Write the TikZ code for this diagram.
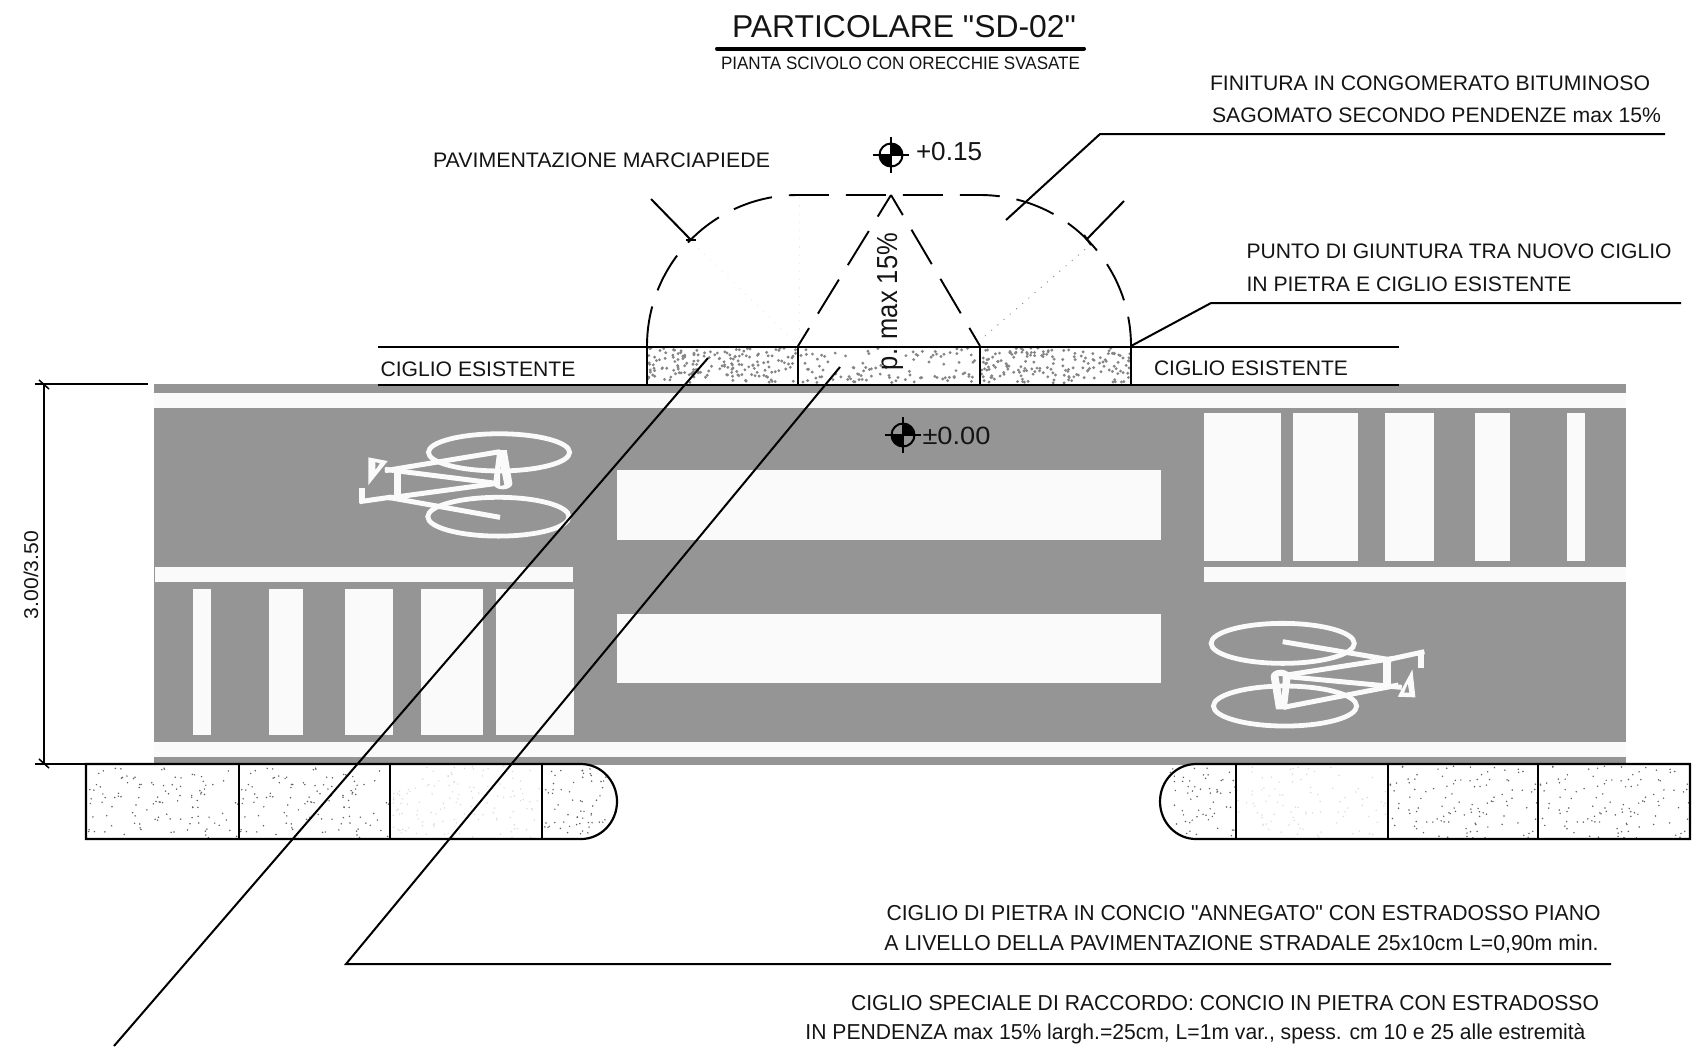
\documentclass[tikz,border=0pt]{standalone}
\usepackage{fontspec}
\usepackage{graphicx}
\usetikzlibrary{calc}
\setmainfont{Liberation Sans}
\newfontfamily\rawf{Liberation Sans}
\definecolor{road}{HTML}{959595}
\definecolor{paint}{HTML}{FAFAFA}
\newcommand{\fit}[3]{{\fontsize{#2}{#2}\selectfont\resizebox{#1}{\height}{#3}}}
\tikzset{
  ln/.style={draw=black,line width=1.0pt},
  thin ln/.style={draw=black,line width=0.75pt},
  dashln/.style={draw=black,line width=0.95pt,dash pattern=on 20pt off 8.5pt},
  txt/.style={anchor=base,inner sep=0pt,outer sep=0pt,text=black!92},
  bar/.style={fill=paint,draw=none},
  bk/.style={draw=paint,line width=2.5pt,line join=round,line cap=butt},
  wheel/.style={draw=paint,line width=2.4pt},
  dotA/.style={fill=black!48},
  dotB/.style={fill=black!14},
  dotC/.style={fill=black!62},
}
\newcommand{\dotfield}[8]{%
  \pgfmathsetseed{#7}%
  \foreach \i in {1,...,#5}{
    \pgfmathsetmacro{\sx}{#1+(#3-#1)*rnd}
    \pgfmathsetmacro{\sy}{#2+(#4-#2)*rnd}
    \fill[#6] (\sx,\sy) circle[radius=#8];
  }}
\newcommand{\levelmark}[3]{%
  \coordinate (#1) at (#2,#3);
  \fill[black] (#1) -- ++(0,-11.5) arc[start angle=90,end angle=0,radius=5.75pt] -- cycle;
  \fill[black] (#1) -- ++(0,11.5) arc[start angle=270,end angle=180,radius=5.75pt] -- cycle;
  \draw[line width=1pt] (#1) circle[radius=5.75pt];
  \draw[line width=1pt] ($(#1)+(-18,0)$) -- ($(#1)+(18,0)$);
  \draw[line width=1pt] ($(#1)+(0,-18)$) -- ($(#1)+(0,18)$);
}
\begin{document}
\begin{tikzpicture}[x=0.5pt,y=-0.5pt]
\useasboundingbox (0,0) rectangle (1700,1046);
% road
\fill[road] (154,384) rectangle (1626,764.5);
\fill[bar] (154,393) rectangle (1626,408);
\fill[bar] (154,741.5) rectangle (1626,757);
\fill[bar] (616.5,470) rectangle (1160.5,540);
\fill[bar] (616.5,614) rectangle (1160.5,683);
\fill[bar] (155,567) rectangle (572.5,582);
\fill[bar] (1203.5,567) rectangle (1626,582);
\foreach \a/\b in {192.5/210.5,268.5/302.5,344.5/393,420.5/483,496/573.5}
  \fill[bar] (\a,589) rectangle (\b,735);
\foreach \a/\b in {1203.5/1280.5,1292.5/1357.5,1384.5/1433.5,1474.5/1509.5,1566.5/1584.5}
  \fill[bar] (\a,413) rectangle (\b,561);
% bike left
\begin{scope}[shift={(320,400)},x=0.1667pt,y=-0.1667pt]
  \draw[wheel] (537,157) ellipse[x radius=35.3pt,y radius=9.3pt];
  \draw[wheel] (535,350) ellipse[x radius=35.3pt,y radius=9.7pt];
  \draw[bk] (540,155) -- (195,212);
  \draw[bk] (195,208) -- (530,250);
  \draw[bk] (205,294) -- (530,250);
  \draw[bk,line width=3.8pt] (232,205) -- (232,295);
  \draw[bk] (205,292) -- (540,352);
  \draw[bk] (118,305) -- (215,291);
  \draw[bk,line width=3.2pt] (126,265) -- (126,310);
  \fill[paint,even odd rule] (145,172) -- (203,183) -- (145,255) -- cycle (166,186) -- (180,190) -- (166,210) -- cycle;
  \fill[paint,even odd rule] (532,150) -- (560,150) -- (577,250) arc[start angle=0,end angle=-180,x radius=4.8pt,y radius=3pt] -- cycle (541,195) -- (553,255) -- (540,258) -- cycle;
\end{scope}
% bike right
\begin{scope}[shift={(1180,600)},x=0.1667pt,y=-0.1667pt]
  \draw[wheel] (308,130) ellipse[x radius=35.8pt,y radius=10pt];
  \draw[wheel] (315,318) ellipse[x radius=35.8pt,y radius=10pt];
  \draw[bk] (308,125) -- (635,180);
  \draw[bk] (640,175) -- (320,225);
  \draw[bk] (325,230) -- (665,262);
  \draw[bk] (310,322) -- (655,255);
  \draw[bk,line width=3.8pt] (620,170) -- (620,260);
  \draw[bk] (632,177) -- (733,155);
  \draw[bk,line width=3.2pt] (722,155) -- (722,203);
  \fill[paint,even odd rule] (697,208) -- (706,292) -- (653,290) -- cycle (683,250) -- (688,278) -- (672,278) -- cycle;
  \fill[paint,even odd rule] (272,230) arc[start angle=180,end angle=0,x radius=5pt,y radius=3.5pt] -- (320,328) -- (288,328) -- cycle (295,228) -- (308,228) -- (306,290) -- cycle;
\end{scope}
% stipple
\dotfield{648}{348}{797}{383}{170}{dotA}{11}{0.8pt}
\dotfield{799}{348}{979}{383}{100}{dotA}{12}{0.8pt}
\dotfield{981}{348}{1130}{383}{170}{dotA}{13}{0.8pt}
\dotfield{88}{766}{238}{838}{110}{dotC}{21}{0.42pt}
\dotfield{240}{766}{389}{838}{110}{dotC}{21}{0.42pt}
\dotfield{392}{766}{540}{838}{130}{dotB}{23}{0.42pt}
\dotfield{543}{768}{608}{836}{60}{dotC}{24}{0.42pt}
\dotfield{1170}{768}{1235}{836}{60}{dotC}{25}{0.42pt}
\dotfield{1237}{766}{1387}{838}{90}{dotB}{26}{0.42pt}
\dotfield{1389}{766}{1537}{838}{110}{dotC}{27}{0.42pt}
\dotfield{1539}{766}{1689}{838}{110}{dotC}{27}{0.42pt}
% kerbs
\draw[ln,line width=1.1pt] (86,764) -- (581,764) arc[start angle=90,end angle=-90,x radius=18pt,y radius=18.75pt] -- (86,839) -- cycle;
\draw[ln,line width=1.1pt] (1690,764) -- (1196,764) arc[start angle=90,end angle=270,x radius=18pt,y radius=18.75pt] -- (1690,839) -- cycle;
\foreach \a in {239,390,541.5,1236,1388,1538}
  \draw[ln] (\a,764) -- (\a,839);
% kerb strip
\draw[ln] (378,347) -- (1399,347);
\draw[ln] (378,384.5) -- (1399,384.5);
\foreach \a in {647,798,980,1131}
  \draw[ln] (\a,347) -- (\a,384.5);
% faint dotted
\draw[black!45,line width=0.4pt,dash pattern=on 0.6pt off 3.5pt] (985,336) -- (1090,245);
\draw[black!8,line width=0.4pt,dash pattern=on 0.6pt off 3.5pt] (799,346) -- (690,240);
\draw[black!8,line width=0.4pt,dash pattern=on 0.6pt off 3.5pt] (799,346) -- (799,195);
% ramp outline
\draw[dashln] (647,346) arc[start angle=180,end angle=90,radius=75.5pt] -- (980,195) arc[start angle=90,end angle=0,radius=75.5pt];
\coordinate (apex) at (891,195);
\coordinate (footL) at (798,346);
\coordinate (footR) at (980,346);
\draw[dashln,dash phase=9.5pt] (footL) -- (apex);
\draw[dashln,dash phase=9.5pt] (footR) -- (apex);
% ticks
\coordinate (tlA) at (651,199); \coordinate (tlB) at (691,240);
\coordinate (trA) at (1124,201); \coordinate (trB) at (1086,240);
\draw[ln] (tlA) -- (tlB);
\draw[ln] (686,240) -- (696,240);
\draw[ln] (trA) -- (trB);
\draw[ln] (1084,235) -- (1091,245);
% leaders
\coordinate (fA) at (1006,220); \coordinate (fB) at (1100,134); \coordinate (fC) at (1665,134);
\draw[ln] (fA) -- (fB) -- (fC);
\coordinate (pA) at (1131,346); \coordinate (pB) at (1211,303); \coordinate (pC) at (1681,303);
\draw[ln] (pA) -- (pB) -- (pC);
\coordinate (aA) at (708,358); \coordinate (aB) at (114,1046);
\draw[ln] (aA) -- (aB);
\coordinate (bA) at (840,367); \coordinate (bB) at (346,964); \coordinate (bC) at (1611,964);
\draw[ln] (bA) -- (bB) -- (bC);
% dimension
\coordinate (dA) at (44,384); \coordinate (dB) at (44,764);
\draw[ln] (dA) -- (dB);
\draw[ln] (35,384) -- (148,384);
\draw[ln] (35,764) -- (148,764);
\draw[thin ln] (39,380) -- (49,389);
\draw[thin ln] (39,759) -- (49,768);
% level marks
\levelmark{lmA}{891}{155}
\levelmark{lmB}{903}{435}
% title
\node[txt] (title) at (904,37) {\fit{172pt}{15.8pt}{\rawf PARTICOLARE "SD-02"}};
\coordinate (rA) at (717,48.5); \coordinate (rB) at (1084,48.5);
\draw[black,line width=2pt,line cap=round] (rA) -- (rB);
\node[txt] (sub) at (900.5,69.5) {\fit{179.5pt}{9pt}{PIANTA SCIVOLO CON ORECCHIE SVASATE}};
% labels
\node[txt] (pav) at (601.5,167.5) {\fit{168.5pt}{10.5pt}{PAVIMENTAZIONE MARCIAPIEDE}};
\node[txt] (lv1) at (949,160) {\fit{33pt}{13pt}{+0.15}};
\node[txt] (lv2) at (956.5,444) {\fit{34pt}{12.5pt}{±0.00}};
\node[txt] (f1) at (1430,90) {\fit{220pt}{10.5pt}{FINITURA IN CONGOMERATO BITUMINOSO}};
\node[txt] (f2) at (1436.5,122.5) {\fit{224.5pt}{10.5pt}{SAGOMATO SECONDO PENDENZE max 15\%}};
\node[txt] (p1) at (1459,258) {\fit{212.5pt}{10.5pt}{PUNTO DI GIUNTURA TRA NUOVO CIGLIO}};
\node[txt] (p2) at (1409,291.5) {\fit{162.5pt}{10.5pt}{IN PIETRA E CIGLIO ESISTENTE}};
\node[txt] (c1) at (478,376) {\fit{97.5pt}{10.5pt}{CIGLIO ESISTENTE}};
\node[txt] (c2) at (1251,375) {\fit{97pt}{10.5pt}{CIGLIO ESISTENTE}};
\node[txt,rotate=90,anchor=base] (pm) at (897,301.5) {\fit{68.5pt}{14.5pt}{p. max 15\%}};
\node[txt,rotate=90,anchor=base] (dim) at (38,575) {\fit{44pt}{10pt}{3.00/3.50}};
\node[txt] (t1) at (1243.5,920) {\fit{357pt}{10.8pt}{\rawf CIGLIO DI PIETRA IN CONCIO "ANNEGATO" CON ESTRADOSSO PIANO}};
\node[txt] (t2) at (1241.5,950) {\fit{357pt}{10.8pt}{A LIVELLO DELLA PAVIMENTAZIONE STRADALE 25x10cm L=0,90m min.}};
\node[txt] (t3) at (1225,1010) {\fit{374pt}{10.8pt}{CIGLIO SPECIALE DI RACCORDO: CONCIO IN PIETRA CON ESTRADOSSO}};
\node[txt] (t4) at (1195.5,1039) {\fit{390pt}{10.8pt}{IN PENDENZA max 15\% largh.=25cm, L=1m var., spess. cm 10 e 25 alle estremità}};
\end{tikzpicture}
\end{document}
